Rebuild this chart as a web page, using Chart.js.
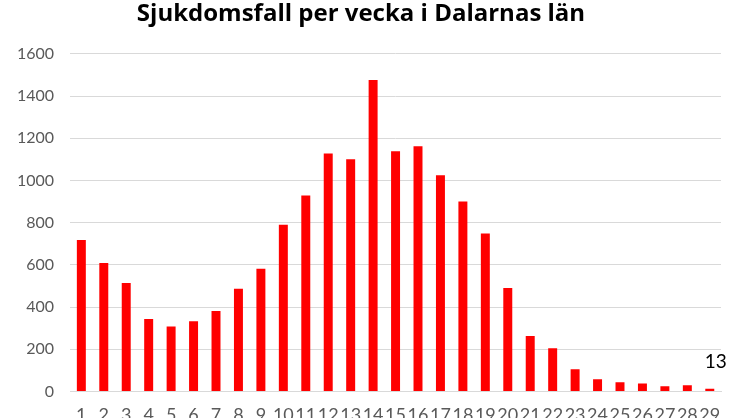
<!DOCTYPE html>
<html>
<head>
<meta charset="utf-8">
<script src="https://cdn.jsdelivr.net/npm/chart.js@4"></script>
<style>
  html, body { margin: 0; padding: 0; background: #fff; overflow: hidden; }
</style>
</head>
<body>
<canvas id="chart" width="745" height="418"></canvas>
<script>
// veckor och antal fall
const weeks = ["1","2","3","4","5","6","7","8","9","10","11","12","13","14","15",
               "16","17","18","19","20","21","22","23","24","25","26","27","28","29"];
const cases = [718, 609, 514, 343, 308, 333, 381, 486, 581, 790, 928, 1128, 1100, 1476, 1138,
               1162, 1024, 900, 748, 490, 262, 205, 105, 57, 43, 38, 24, 29, 13];
const yTicks = [0, 200, 400, 600, 800, 1000, 1200, 1400, 1600];

const titleText = "Sjukdomsfall per vecka i Dalarnas län";

// etikett över sista stapeln
const lastLabel = {
    id: "lastLabel",
    afterDatasetsDraw(chart) {
        const meta = chart.getDatasetMeta(0);
        const i = cases.length - 1;
        const bar = meta.data[i];
        const ctx = chart.ctx;
        ctx.save();
        ctx.font = "19px Lato";
        ctx.fillStyle = "#000";
        ctx.textAlign = "center";
        ctx.textBaseline = "alphabetic";
        ctx.fillText(String(cases[i]), bar.x + 6, bar.y - 21);
        ctx.restore();
    }
};

new Chart(document.getElementById("chart"), {
    type: "bar",
    data: {
        labels: weeks,
        datasets: [{
            data: cases,
            backgroundColor: "#ff0000",
            barPercentage: 0.4,
            categoryPercentage: 1.0
        }]
    },
    options: {
        responsive: false,
        animation: false,
        devicePixelRatio: 1,
        // negativ bottenmarginal: x-etiketterna ska klippas av nederkanten som i originalet
        layout: { padding: { left: 1, right: 24, top: 0, bottom: -21 } },
        plugins: {
            legend: { display: false },
            tooltip: { enabled: false },
            title: {
                display: true,
                text: titleText,
                color: "#000",
                font: { family: "Open Sans", size: 24, weight: "bold" },
                padding: { top: 0, bottom: 25 }
            }
        },
        scales: {
            x: {
                grid: { display: false, drawTicks: false },
                border: { color: "#d9d9d9", width: 1 },
                ticks: {
                    color: "#595959",
                    font: { family: "Lato", size: 18 },
                    autoSkip: false,
                    maxRotation: 0,
                    padding: 13
                }
            },
            y: {
                min: 0,
                max: 1600,
                afterBuildTicks(axis) { axis.ticks = yTicks.map(v => ({ value: v })); },
                grid: { color: "#d9d9d9", drawTicks: false },
                border: { display: false },
                ticks: {
                    color: "#595959",
                    font: { family: "Lato", size: 16 },
                    padding: 16,
                    callback: v => String(v)
                }
            }
        }
    },
    plugins: [lastLabel]
});
</script>
</body>
</html>
